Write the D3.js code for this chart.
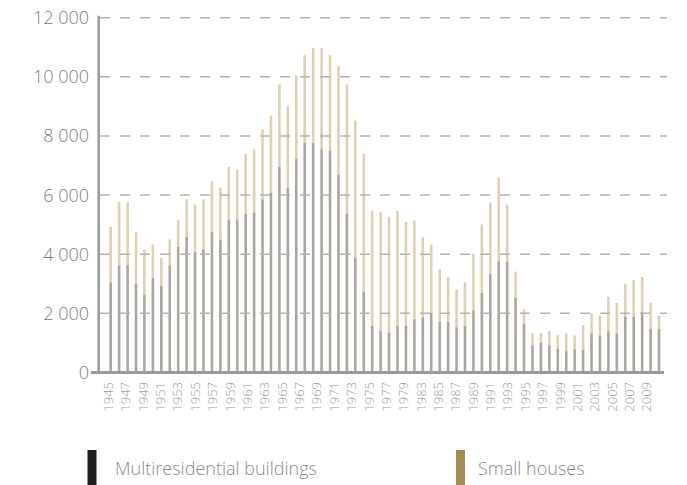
<!DOCTYPE html>
<html>
<head>
<meta charset="utf-8">
<script src="https://cdn.jsdelivr.net/npm/d3@7"></script>
<style>
  body { margin: 0; background: white; }
  svg { display: block; font-family: "Open Sans", "Noto Sans", sans-serif; }
  .tick-label { fill: #808080; font-weight: 300; }
</style>
</head>
<body>
<svg id="chart" width="687" height="485"></svg>
<script>
// years shown as bars
const years = d3.range(1945, 2011);

// dwellings in multiresidential buildings (grey part)
const multi = [
  3050, 3630, 3630, 2990, 2630, 3200, 2930, 3630, 4250, 4590,
  4080, 4160, 4760, 4500, 5150, 5150, 5360, 5410, 5860, 6080,
  6950, 6250, 7220, 7760, 7760, 7550, 7500, 6690, 5360, 3870,
  2730, 1580, 1400, 1350, 1580, 1580, 1800, 1870, 2020, 1720,
  1720, 1530, 1580, 2100, 2690, 3330, 3760, 3740, 2520, 1640,
  910, 1000, 920, 800, 720, 790, 760, 1320, 1250, 1400,
  1320, 1890, 1890, 2040, 1480, 1480
];

// dwellings in small houses (beige part, stacked on top)
const small = [
  1870, 2130, 2130, 1760, 1520, 1130, 940, 870, 900, 1270,
  1600, 1700, 1710, 1760, 1800, 1720, 2040, 2130, 2360, 2610,
  2790, 2760, 2830, 2970, 3210, 3420, 3230, 3670, 4380, 4650,
  4660, 3890, 4020, 3920, 3890, 3510, 3340, 2700, 2310, 1770,
  1510, 1280, 1470, 1920, 2320, 2420, 2840, 1940, 890, 500,
  420, 330, 480, 460, 600, 460, 840, 680, 670, 1160,
  1030, 1100, 1230, 1190, 870, 440
];

// x tick labels as printed in the original (1981 is not printed)
const tickLabels = [
  "1945", "1947", "1949", "1951", "1953", "1955", "1957", "1959",
  "1961", "1963", "1965", "1967", "1969", "1971", "1973", "1975",
  "1977", "1979", "1983", "1985", "1987", "1989", "1991", "1993",
  "1995", "1997", "1999", "2001", "2003", "2005", "2007", "2009"
];

const yTicks = [0, 2000, 4000, 6000, 8000, 10000, 12000];

const seriesNames = ["Multiresidential buildings", "Small houses"];
const legendColors = ["#231f20", "#a68b55"];

const svg = d3.select("#chart");

const x = d3.scalePoint().domain(years).range([110.7, 659]);
const xLabel = d3.scalePoint().domain(tickLabels).range([108.3, 646.7]);
const y = d3.scaleLinear().domain([0, 12000]).range([372.5, 17.7]);

const barW = 2.6;
const colorMulti = "#aaa69f";
const colorSmall = "#ddd0b3";

const g = {
  bars: svg.append("g").attr("id", "bars"),
  grid: svg.append("g").attr("id", "grid"),
  axes: svg.append("g").attr("id", "axes"),
  legend: svg.append("g").attr("id", "legend")
};

const rows = years.map((yr, i) => ({ year: yr, multi: multi[i], small: small[i] }));

// small houses part on top
g.bars.selectAll("rect.small")
  .data(rows)
  .enter()
  .append("rect")
  .attr("class", "small")
  .attr("x", d => x(d.year) - barW / 2)
  .attr("width", barW)
  .attr("y", d => y(d.multi + d.small))
  .attr("height", d => y(d.multi) - y(d.multi + d.small))
  .attr("fill", colorSmall);

g.bars.selectAll("rect.multi")
  .data(rows)
  .enter()
  .append("rect")
  .attr("class", "multi")
  .attr("x", d => x(d.year) - barW / 2)
  .attr("width", barW)
  .attr("y", d => y(d.multi))
  .attr("height", d => y(0) - y(d.multi))
  .attr("fill", colorMulti);

// dashed grid lines (drawn over the bars)
g.grid.selectAll("line")
  .data(yTicks.filter(d => d > 0))
  .enter()
  .append("line")
  .attr("x1", 100)
  .attr("x2", 667)
  .attr("y1", d => y(d))
  .attr("y2", d => y(d))
  .attr("stroke", "#b4b4b4")
  .attr("stroke-width", 1.5)
  .attr("stroke-dasharray", "10,10");

// y axis line and baseline
g.axes.append("line")
  .attr("x1", 98.7).attr("x2", 98.7)
  .attr("y1", y(12000) - 2).attr("y2", y(0))
  .attr("stroke", "#9a9a9a")
  .attr("stroke-width", 2.5);

g.axes.append("line")
  .attr("x1", 91).attr("x2", 664)
  .attr("y1", y(0)).attr("y2", y(0))
  .attr("stroke", "#9a9a9a")
  .attr("stroke-width", 3);

// y tick labels with a space as thousands separator
const fmt = d3.formatLocale({ decimal: ",", thousands: " ", grouping: [3], currency: ["", ""] }).format(",d");

g.axes.selectAll("text.ylab")
  .data(yTicks)
  .enter()
  .append("text")
  .attr("class", "tick-label ylab")
  .attr("x", 89)
  .attr("y", d => y(d))
  .attr("dy", "0.36em")
  .attr("text-anchor", "end")
  .style("font-size", "18px")
  .text(d => fmt(d));

// rotated year labels
g.axes.selectAll("text.xlab")
  .data(tickLabels)
  .enter()
  .append("text")
  .attr("class", "tick-label xlab")
  .attr("transform", d => "translate(" + xLabel(d) + ",382) rotate(-90)")
  .attr("dy", "0.36em")
  .attr("text-anchor", "end")
  .style("font-size", "13px")
  .style("fill", "#9c9c9c")
  .text(d => d);

// legend
const legendX = [87.5, 456];
const textX = [115, 478];
const items = g.legend.selectAll("g.item")
  .data(seriesNames)
  .enter()
  .append("g")
  .attr("class", "item")
  .attr("transform", "translate(0,450)");

items.append("rect")
  .attr("x", (d, i) => legendX[i])
  .attr("width", 9)
  .attr("height", 36)
  .attr("fill", (d, i) => legendColors[i]);

items.append("text")
  .attr("x", (d, i) => textX[i])
  .attr("y", 25)
  .style("font-size", "18px")
  .style("font-weight", 300)
  .style("fill", "#8c8c8c")
  .text(d => d);
</script>
</body>
</html>
